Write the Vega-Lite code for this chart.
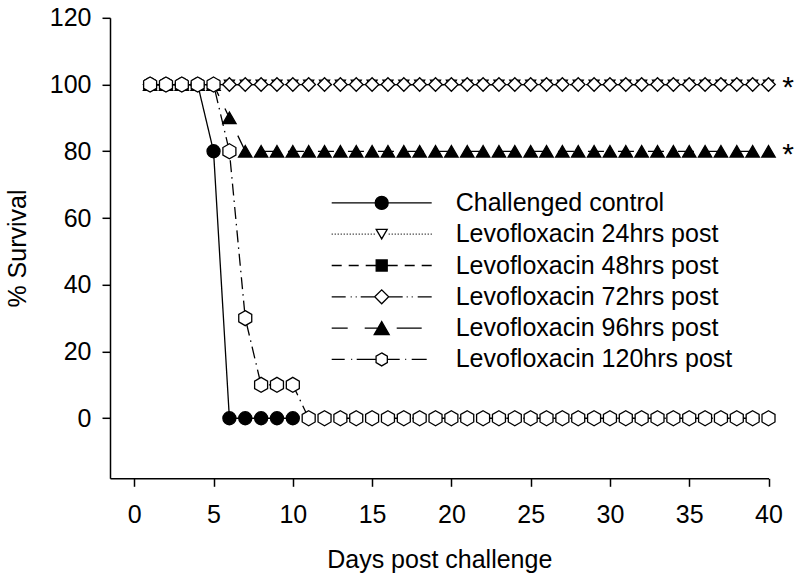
{
  "$schema": "https://vega.github.io/schema/vega-lite/v6.json",
  "width": 658.5,
  "height": 460.5,
  "autosize": {"type": "none"},
  "padding": {"left": 110, "top": 17.8, "right": 31.5, "bottom": 100.7},
  "background": "white",
  "config": {
    "view": {"stroke": null},
    "font": "Liberation Sans",
    "axis": {
      "grid": false,
      "domainColor": "black",
      "domainWidth": 1.5,
      "tickColor": "black",
      "tickWidth": 1.5,
      "tickSize": 8,
      "labelColor": "black",
      "labelFont": "Liberation Sans",
      "labelFontSize": 25,
      "labelFlush": false,
      "labelOverlap": false,
      "titleColor": "black",
      "titleFont": "Liberation Sans",
      "titleFontSize": 25,
      "titleFontWeight": "normal"
    }
  },
  "datasets": {
    "surv": [
      {"day":1,"pct":100,"grp":"Challenged control"},
      {"day":2,"pct":100,"grp":"Challenged control"},
      {"day":3,"pct":100,"grp":"Challenged control"},
      {"day":4,"pct":100,"grp":"Challenged control"},
      {"day":5,"pct":80,"grp":"Challenged control"},
      {"day":6,"pct":0,"grp":"Challenged control"},
      {"day":7,"pct":0,"grp":"Challenged control"},
      {"day":8,"pct":0,"grp":"Challenged control"},
      {"day":9,"pct":0,"grp":"Challenged control"},
      {"day":10,"pct":0,"grp":"Challenged control"},
      {"day":1,"pct":100,"grp":"Levofloxacin 24hrs post"},
      {"day":2,"pct":100,"grp":"Levofloxacin 24hrs post"},
      {"day":3,"pct":100,"grp":"Levofloxacin 24hrs post"},
      {"day":4,"pct":100,"grp":"Levofloxacin 24hrs post"},
      {"day":5,"pct":100,"grp":"Levofloxacin 24hrs post"},
      {"day":6,"pct":100,"grp":"Levofloxacin 24hrs post"},
      {"day":7,"pct":100,"grp":"Levofloxacin 24hrs post"},
      {"day":8,"pct":100,"grp":"Levofloxacin 24hrs post"},
      {"day":9,"pct":100,"grp":"Levofloxacin 24hrs post"},
      {"day":10,"pct":100,"grp":"Levofloxacin 24hrs post"},
      {"day":11,"pct":100,"grp":"Levofloxacin 24hrs post"},
      {"day":12,"pct":100,"grp":"Levofloxacin 24hrs post"},
      {"day":13,"pct":100,"grp":"Levofloxacin 24hrs post"},
      {"day":14,"pct":100,"grp":"Levofloxacin 24hrs post"},
      {"day":15,"pct":100,"grp":"Levofloxacin 24hrs post"},
      {"day":16,"pct":100,"grp":"Levofloxacin 24hrs post"},
      {"day":17,"pct":100,"grp":"Levofloxacin 24hrs post"},
      {"day":18,"pct":100,"grp":"Levofloxacin 24hrs post"},
      {"day":19,"pct":100,"grp":"Levofloxacin 24hrs post"},
      {"day":20,"pct":100,"grp":"Levofloxacin 24hrs post"},
      {"day":21,"pct":100,"grp":"Levofloxacin 24hrs post"},
      {"day":22,"pct":100,"grp":"Levofloxacin 24hrs post"},
      {"day":23,"pct":100,"grp":"Levofloxacin 24hrs post"},
      {"day":24,"pct":100,"grp":"Levofloxacin 24hrs post"},
      {"day":25,"pct":100,"grp":"Levofloxacin 24hrs post"},
      {"day":26,"pct":100,"grp":"Levofloxacin 24hrs post"},
      {"day":27,"pct":100,"grp":"Levofloxacin 24hrs post"},
      {"day":28,"pct":100,"grp":"Levofloxacin 24hrs post"},
      {"day":29,"pct":100,"grp":"Levofloxacin 24hrs post"},
      {"day":30,"pct":100,"grp":"Levofloxacin 24hrs post"},
      {"day":31,"pct":100,"grp":"Levofloxacin 24hrs post"},
      {"day":32,"pct":100,"grp":"Levofloxacin 24hrs post"},
      {"day":33,"pct":100,"grp":"Levofloxacin 24hrs post"},
      {"day":34,"pct":100,"grp":"Levofloxacin 24hrs post"},
      {"day":35,"pct":100,"grp":"Levofloxacin 24hrs post"},
      {"day":36,"pct":100,"grp":"Levofloxacin 24hrs post"},
      {"day":37,"pct":100,"grp":"Levofloxacin 24hrs post"},
      {"day":38,"pct":100,"grp":"Levofloxacin 24hrs post"},
      {"day":39,"pct":100,"grp":"Levofloxacin 24hrs post"},
      {"day":40,"pct":100,"grp":"Levofloxacin 24hrs post"},
      {"day":1,"pct":100,"grp":"Levofloxacin 48hrs post"},
      {"day":2,"pct":100,"grp":"Levofloxacin 48hrs post"},
      {"day":3,"pct":100,"grp":"Levofloxacin 48hrs post"},
      {"day":4,"pct":100,"grp":"Levofloxacin 48hrs post"},
      {"day":5,"pct":100,"grp":"Levofloxacin 48hrs post"},
      {"day":6,"pct":100,"grp":"Levofloxacin 48hrs post"},
      {"day":7,"pct":100,"grp":"Levofloxacin 48hrs post"},
      {"day":8,"pct":100,"grp":"Levofloxacin 48hrs post"},
      {"day":9,"pct":100,"grp":"Levofloxacin 48hrs post"},
      {"day":10,"pct":100,"grp":"Levofloxacin 48hrs post"},
      {"day":11,"pct":100,"grp":"Levofloxacin 48hrs post"},
      {"day":12,"pct":100,"grp":"Levofloxacin 48hrs post"},
      {"day":13,"pct":100,"grp":"Levofloxacin 48hrs post"},
      {"day":14,"pct":100,"grp":"Levofloxacin 48hrs post"},
      {"day":15,"pct":100,"grp":"Levofloxacin 48hrs post"},
      {"day":16,"pct":100,"grp":"Levofloxacin 48hrs post"},
      {"day":17,"pct":100,"grp":"Levofloxacin 48hrs post"},
      {"day":18,"pct":100,"grp":"Levofloxacin 48hrs post"},
      {"day":19,"pct":100,"grp":"Levofloxacin 48hrs post"},
      {"day":20,"pct":100,"grp":"Levofloxacin 48hrs post"},
      {"day":21,"pct":100,"grp":"Levofloxacin 48hrs post"},
      {"day":22,"pct":100,"grp":"Levofloxacin 48hrs post"},
      {"day":23,"pct":100,"grp":"Levofloxacin 48hrs post"},
      {"day":24,"pct":100,"grp":"Levofloxacin 48hrs post"},
      {"day":25,"pct":100,"grp":"Levofloxacin 48hrs post"},
      {"day":26,"pct":100,"grp":"Levofloxacin 48hrs post"},
      {"day":27,"pct":100,"grp":"Levofloxacin 48hrs post"},
      {"day":28,"pct":100,"grp":"Levofloxacin 48hrs post"},
      {"day":29,"pct":100,"grp":"Levofloxacin 48hrs post"},
      {"day":30,"pct":100,"grp":"Levofloxacin 48hrs post"},
      {"day":31,"pct":100,"grp":"Levofloxacin 48hrs post"},
      {"day":32,"pct":100,"grp":"Levofloxacin 48hrs post"},
      {"day":33,"pct":100,"grp":"Levofloxacin 48hrs post"},
      {"day":34,"pct":100,"grp":"Levofloxacin 48hrs post"},
      {"day":35,"pct":100,"grp":"Levofloxacin 48hrs post"},
      {"day":36,"pct":100,"grp":"Levofloxacin 48hrs post"},
      {"day":37,"pct":100,"grp":"Levofloxacin 48hrs post"},
      {"day":38,"pct":100,"grp":"Levofloxacin 48hrs post"},
      {"day":39,"pct":100,"grp":"Levofloxacin 48hrs post"},
      {"day":40,"pct":100,"grp":"Levofloxacin 48hrs post"},
      {"day":1,"pct":100,"grp":"Levofloxacin 72hrs post"},
      {"day":2,"pct":100,"grp":"Levofloxacin 72hrs post"},
      {"day":3,"pct":100,"grp":"Levofloxacin 72hrs post"},
      {"day":4,"pct":100,"grp":"Levofloxacin 72hrs post"},
      {"day":5,"pct":100,"grp":"Levofloxacin 72hrs post"},
      {"day":6,"pct":100,"grp":"Levofloxacin 72hrs post"},
      {"day":7,"pct":100,"grp":"Levofloxacin 72hrs post"},
      {"day":8,"pct":100,"grp":"Levofloxacin 72hrs post"},
      {"day":9,"pct":100,"grp":"Levofloxacin 72hrs post"},
      {"day":10,"pct":100,"grp":"Levofloxacin 72hrs post"},
      {"day":11,"pct":100,"grp":"Levofloxacin 72hrs post"},
      {"day":12,"pct":100,"grp":"Levofloxacin 72hrs post"},
      {"day":13,"pct":100,"grp":"Levofloxacin 72hrs post"},
      {"day":14,"pct":100,"grp":"Levofloxacin 72hrs post"},
      {"day":15,"pct":100,"grp":"Levofloxacin 72hrs post"},
      {"day":16,"pct":100,"grp":"Levofloxacin 72hrs post"},
      {"day":17,"pct":100,"grp":"Levofloxacin 72hrs post"},
      {"day":18,"pct":100,"grp":"Levofloxacin 72hrs post"},
      {"day":19,"pct":100,"grp":"Levofloxacin 72hrs post"},
      {"day":20,"pct":100,"grp":"Levofloxacin 72hrs post"},
      {"day":21,"pct":100,"grp":"Levofloxacin 72hrs post"},
      {"day":22,"pct":100,"grp":"Levofloxacin 72hrs post"},
      {"day":23,"pct":100,"grp":"Levofloxacin 72hrs post"},
      {"day":24,"pct":100,"grp":"Levofloxacin 72hrs post"},
      {"day":25,"pct":100,"grp":"Levofloxacin 72hrs post"},
      {"day":26,"pct":100,"grp":"Levofloxacin 72hrs post"},
      {"day":27,"pct":100,"grp":"Levofloxacin 72hrs post"},
      {"day":28,"pct":100,"grp":"Levofloxacin 72hrs post"},
      {"day":29,"pct":100,"grp":"Levofloxacin 72hrs post"},
      {"day":30,"pct":100,"grp":"Levofloxacin 72hrs post"},
      {"day":31,"pct":100,"grp":"Levofloxacin 72hrs post"},
      {"day":32,"pct":100,"grp":"Levofloxacin 72hrs post"},
      {"day":33,"pct":100,"grp":"Levofloxacin 72hrs post"},
      {"day":34,"pct":100,"grp":"Levofloxacin 72hrs post"},
      {"day":35,"pct":100,"grp":"Levofloxacin 72hrs post"},
      {"day":36,"pct":100,"grp":"Levofloxacin 72hrs post"},
      {"day":37,"pct":100,"grp":"Levofloxacin 72hrs post"},
      {"day":38,"pct":100,"grp":"Levofloxacin 72hrs post"},
      {"day":39,"pct":100,"grp":"Levofloxacin 72hrs post"},
      {"day":40,"pct":100,"grp":"Levofloxacin 72hrs post"},
      {"day":1,"pct":100,"grp":"Levofloxacin 96hrs post"},
      {"day":2,"pct":100,"grp":"Levofloxacin 96hrs post"},
      {"day":3,"pct":100,"grp":"Levofloxacin 96hrs post"},
      {"day":4,"pct":100,"grp":"Levofloxacin 96hrs post"},
      {"day":5,"pct":100,"grp":"Levofloxacin 96hrs post"},
      {"day":6,"pct":90,"grp":"Levofloxacin 96hrs post"},
      {"day":7,"pct":80,"grp":"Levofloxacin 96hrs post"},
      {"day":8,"pct":80,"grp":"Levofloxacin 96hrs post"},
      {"day":9,"pct":80,"grp":"Levofloxacin 96hrs post"},
      {"day":10,"pct":80,"grp":"Levofloxacin 96hrs post"},
      {"day":11,"pct":80,"grp":"Levofloxacin 96hrs post"},
      {"day":12,"pct":80,"grp":"Levofloxacin 96hrs post"},
      {"day":13,"pct":80,"grp":"Levofloxacin 96hrs post"},
      {"day":14,"pct":80,"grp":"Levofloxacin 96hrs post"},
      {"day":15,"pct":80,"grp":"Levofloxacin 96hrs post"},
      {"day":16,"pct":80,"grp":"Levofloxacin 96hrs post"},
      {"day":17,"pct":80,"grp":"Levofloxacin 96hrs post"},
      {"day":18,"pct":80,"grp":"Levofloxacin 96hrs post"},
      {"day":19,"pct":80,"grp":"Levofloxacin 96hrs post"},
      {"day":20,"pct":80,"grp":"Levofloxacin 96hrs post"},
      {"day":21,"pct":80,"grp":"Levofloxacin 96hrs post"},
      {"day":22,"pct":80,"grp":"Levofloxacin 96hrs post"},
      {"day":23,"pct":80,"grp":"Levofloxacin 96hrs post"},
      {"day":24,"pct":80,"grp":"Levofloxacin 96hrs post"},
      {"day":25,"pct":80,"grp":"Levofloxacin 96hrs post"},
      {"day":26,"pct":80,"grp":"Levofloxacin 96hrs post"},
      {"day":27,"pct":80,"grp":"Levofloxacin 96hrs post"},
      {"day":28,"pct":80,"grp":"Levofloxacin 96hrs post"},
      {"day":29,"pct":80,"grp":"Levofloxacin 96hrs post"},
      {"day":30,"pct":80,"grp":"Levofloxacin 96hrs post"},
      {"day":31,"pct":80,"grp":"Levofloxacin 96hrs post"},
      {"day":32,"pct":80,"grp":"Levofloxacin 96hrs post"},
      {"day":33,"pct":80,"grp":"Levofloxacin 96hrs post"},
      {"day":34,"pct":80,"grp":"Levofloxacin 96hrs post"},
      {"day":35,"pct":80,"grp":"Levofloxacin 96hrs post"},
      {"day":36,"pct":80,"grp":"Levofloxacin 96hrs post"},
      {"day":37,"pct":80,"grp":"Levofloxacin 96hrs post"},
      {"day":38,"pct":80,"grp":"Levofloxacin 96hrs post"},
      {"day":39,"pct":80,"grp":"Levofloxacin 96hrs post"},
      {"day":40,"pct":80,"grp":"Levofloxacin 96hrs post"},
      {"day":1,"pct":100,"grp":"Levofloxacin 120hrs post"},
      {"day":2,"pct":100,"grp":"Levofloxacin 120hrs post"},
      {"day":3,"pct":100,"grp":"Levofloxacin 120hrs post"},
      {"day":4,"pct":100,"grp":"Levofloxacin 120hrs post"},
      {"day":5,"pct":100,"grp":"Levofloxacin 120hrs post"},
      {"day":6,"pct":80,"grp":"Levofloxacin 120hrs post"},
      {"day":7,"pct":30,"grp":"Levofloxacin 120hrs post"},
      {"day":8,"pct":10,"grp":"Levofloxacin 120hrs post"},
      {"day":9,"pct":10,"grp":"Levofloxacin 120hrs post"},
      {"day":10,"pct":10,"grp":"Levofloxacin 120hrs post"},
      {"day":11,"pct":0,"grp":"Levofloxacin 120hrs post"},
      {"day":12,"pct":0,"grp":"Levofloxacin 120hrs post"},
      {"day":13,"pct":0,"grp":"Levofloxacin 120hrs post"},
      {"day":14,"pct":0,"grp":"Levofloxacin 120hrs post"},
      {"day":15,"pct":0,"grp":"Levofloxacin 120hrs post"},
      {"day":16,"pct":0,"grp":"Levofloxacin 120hrs post"},
      {"day":17,"pct":0,"grp":"Levofloxacin 120hrs post"},
      {"day":18,"pct":0,"grp":"Levofloxacin 120hrs post"},
      {"day":19,"pct":0,"grp":"Levofloxacin 120hrs post"},
      {"day":20,"pct":0,"grp":"Levofloxacin 120hrs post"},
      {"day":21,"pct":0,"grp":"Levofloxacin 120hrs post"},
      {"day":22,"pct":0,"grp":"Levofloxacin 120hrs post"},
      {"day":23,"pct":0,"grp":"Levofloxacin 120hrs post"},
      {"day":24,"pct":0,"grp":"Levofloxacin 120hrs post"},
      {"day":25,"pct":0,"grp":"Levofloxacin 120hrs post"},
      {"day":26,"pct":0,"grp":"Levofloxacin 120hrs post"},
      {"day":27,"pct":0,"grp":"Levofloxacin 120hrs post"},
      {"day":28,"pct":0,"grp":"Levofloxacin 120hrs post"},
      {"day":29,"pct":0,"grp":"Levofloxacin 120hrs post"},
      {"day":30,"pct":0,"grp":"Levofloxacin 120hrs post"},
      {"day":31,"pct":0,"grp":"Levofloxacin 120hrs post"},
      {"day":32,"pct":0,"grp":"Levofloxacin 120hrs post"},
      {"day":33,"pct":0,"grp":"Levofloxacin 120hrs post"},
      {"day":34,"pct":0,"grp":"Levofloxacin 120hrs post"},
      {"day":35,"pct":0,"grp":"Levofloxacin 120hrs post"},
      {"day":36,"pct":0,"grp":"Levofloxacin 120hrs post"},
      {"day":37,"pct":0,"grp":"Levofloxacin 120hrs post"},
      {"day":38,"pct":0,"grp":"Levofloxacin 120hrs post"},
      {"day":39,"pct":0,"grp":"Levofloxacin 120hrs post"},
      {"day":40,"pct":0,"grp":"Levofloxacin 120hrs post"}
    ],
    "stars": [
      {"day":41.23,"pct":100,"mark":"*"},
      {"day":41.23,"pct":80,"mark":"*"}
    ]
  },
  "layer": [
    {
      "data": {"name": "surv"},
      "mark": {"type": "line", "color": "black", "strokeWidth": 1.3},
      "encoding": {
        "x": {"field": "day", "type": "quantitative", "scale": {"domain": [-1.53, 40], "nice": false, "zero": false},
              "axis": {"title": "Days post challenge", "values": [0,5,10,15,20,25,30,35,40], "format": "d", "labelPadding": 16, "titlePadding": 20}},
        "y": {"field": "pct", "type": "quantitative", "scale": {"domain": [-18, 120], "nice": false, "zero": false},
              "axis": {"title": "% Survival", "values": [0,20,40,60,80,100,120], "format": "d", "labelPadding": 11, "titlePadding": 19}},
        "strokeDash": {"field": "grp", "type": "nominal",
          "scale": {"domain": ["Challenged control","Levofloxacin 24hrs post","Levofloxacin 48hrs post","Levofloxacin 72hrs post","Levofloxacin 96hrs post","Levofloxacin 120hrs post"],
                    "range": [[1,0],[1.5,2.5],[10,7],[14,4,1.5,3,1.5,4],[16,14],[12,5,1.5,5]]},
          "legend": null}
      }
    },
    {
      "data": {"name": "surv"},
      "mark": {"type": "point", "filled": true, "stroke": "black", "strokeWidth": 1.3, "opacity": 1, "fillOpacity": 1},
      "encoding": {
        "x": {"field": "day", "type": "quantitative"},
        "y": {"field": "pct", "type": "quantitative"},
        "fill": {"field": "grp", "type": "nominal",
          "scale": {"domain": ["Challenged control","Levofloxacin 24hrs post","Levofloxacin 48hrs post","Levofloxacin 72hrs post","Levofloxacin 96hrs post","Levofloxacin 120hrs post"],
                    "range": ["black","white","black","white","black","white"]},
          "legend": null},
        "size": {"field": "grp", "type": "nominal",
          "scale": {"type": "ordinal", "domain": ["Challenged control","Levofloxacin 24hrs post","Levofloxacin 48hrs post","Levofloxacin 72hrs post","Levofloxacin 96hrs post","Levofloxacin 120hrs post"],
                    "range": [170, 100, 40, 182, 180, 225]},
          "legend": null},
        "shape": {"field": "grp", "type": "nominal",
          "scale": {"domain": ["Challenged control","Levofloxacin 24hrs post","Levofloxacin 48hrs post","Levofloxacin 72hrs post","Levofloxacin 96hrs post","Levofloxacin 120hrs post"],
                    "range": ["circle","triangle-down","square","diamond","triangle-up","M0,-1L0.866,-0.5L0.866,0.5L0,1L-0.866,0.5L-0.866,-0.5Z"]},
          "legend": null},
        "opacity": {"field": "grp", "type": "nominal",
          "sort": ["Challenged control","Levofloxacin 24hrs post","Levofloxacin 48hrs post","Levofloxacin 72hrs post","Levofloxacin 96hrs post","Levofloxacin 120hrs post"],
          "scale": {"type": "ordinal", "range": [1, 1, 1, 1, 1, 1]},
          "legend": {
            "orient": "none", "legendX": 258.2, "legendY": 171.6, "title": null, "padding": 0, "rowPadding": 4.3, "symbolOffset": 0, "labelOffset": 60.5,
            "labelFont": "Liberation Sans", "labelFontSize": 25, "labelColor": "black", "labelLimit": 1000, "symbolStrokeWidth": 1.3, "symbolStrokeColor": "black",
            "symbolOpacity": 1,
            "encoding": {
              "symbols": {
                "shape": {"value": {"expr": "['M-4,0H4M0.52,0A0.52,0.52,0,1,1,-0.52,0A0.52,0.52,0,1,1,0.52,0Z', 'M-4,0H-3.92M-3.76,0H-3.68M-3.52,0H-3.44M-3.28,0H-3.2M-3.04,0H-2.96M-2.8,0H-2.72M-2.56,0H-2.48M-2.32,0H-2.24M-2.08,0H-2M-1.84,0H-1.76M-1.6,0H-1.52M-1.36,0H-1.28M-1.12,0H-1.04M-0.88,0H-0.8M-0.64,0H-0.56M0.56,0H0.64M0.8,0H0.88M1.04,0H1.12M1.28,0H1.36M1.52,0H1.6M1.76,0H1.84M2,0H2.08M2.24,0H2.32M2.48,0H2.56M2.72,0H2.8M2.96,0H3.04M3.2,0H3.28M3.44,0H3.52M3.68,0H3.76M3.92,0H4M-0.44,-0.38L0.44,-0.38L0,0.38Z', 'M-4,0H-3.2M-2.64,0H-1.84M-1.28,0H1.28M1.84,0H2.64M3.2,0H4M-0.44,-0.44H0.44V0.44H-0.44Z', 'M-4,0H-2.88M-2.48,0H-2.4M-2.08,0H-2M-1.68,0H-0.56M0.56,0H1.68M2,0H2.08M2.4,0H2.48M2.88,0H4M-0.56,0L0,-0.56L0.56,0L0,0.56Z', 'M-4,0H-2.72M-1.36,0H0M1.2,0H3.2M0,-0.52L0.6,0.52L-0.6,0.52Z', 'M-4,0H-2.96M-2.44,0H-2.36M-2,0H-0.45M0.45,0H1.44M1.88,0H1.96M2.4,0H3.6M0,-0.52L0.45,-0.26L0.45,0.26L0,0.52L-0.45,0.26L-0.45,-0.26Z'][indexof(['Challenged control','Levofloxacin 24hrs post','Levofloxacin 48hrs post','Levofloxacin 72hrs post','Levofloxacin 96hrs post','Levofloxacin 120hrs post'], datum.value)]"}},
                "fill": {"value": {"expr": "indexof(['Levofloxacin 24hrs post','Levofloxacin 72hrs post','Levofloxacin 120hrs post'], datum.value) >= 0 ? 'white' : 'black'"}},
                "fillOpacity": {"value": 1},
                "strokeOpacity": {"value": 1},
                "stroke": {"value": "black"}, "strokeWidth": {"value": 1.3}, "strokeDash": {"value": []}, "size": {"value": 625}
              }
            }
          }
        }
      }
    },
    {
      "data": {"name": "stars"},
      "mark": {"type": "text", "fontSize": 30, "font": "Liberation Sans", "align": "center", "baseline": "alphabetic", "dy": 12.7, "color": "black", "clip": false},
      "encoding": {
        "x": {"field": "day", "type": "quantitative"},
        "y": {"field": "pct", "type": "quantitative"},
        "text": {"field": "mark"}
      }
    }
  ]
}
